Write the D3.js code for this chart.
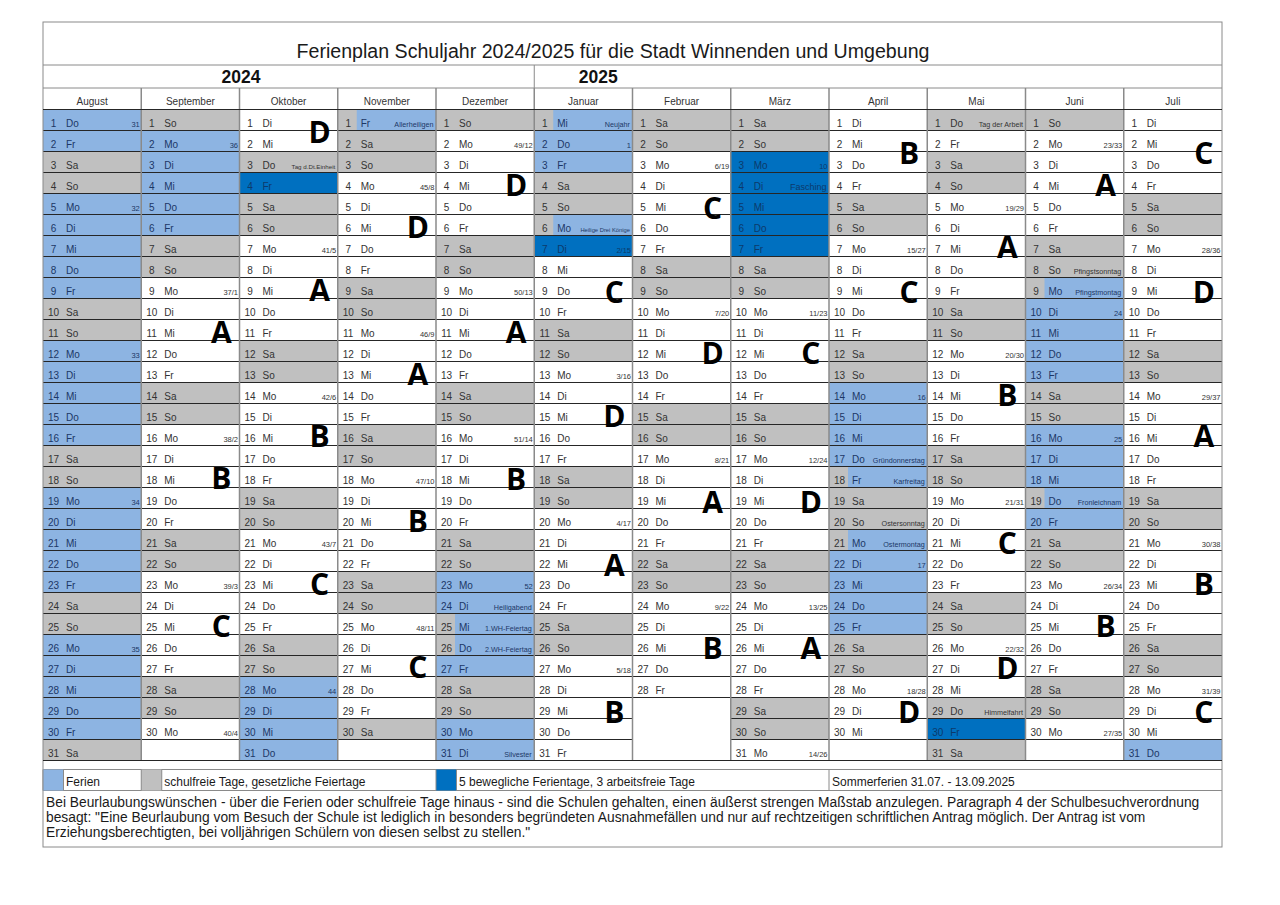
<!DOCTYPE html>
<html>
<head>
<meta charset="utf-8">
<script src="https://cdn.jsdelivr.net/npm/d3@7"></script>
<style>
  body { margin: 0; background: #fff; }
  svg { display: block; font-family: "Liberation Sans", Arial, sans-serif; }
</style>
</head>
<body>
<svg id="chart" width="1280" height="905"></svg>
<script>
const TITLE = 'Ferienplan Schuljahr 2024/2025 für die Stadt Winnenden und Umgebung';
const YEARS = ['2024', '2025'];
const MONTHS = ['August', 'September', 'Oktober', 'November', 'Dezember', 'Januar',
  'Februar', 'März', 'April', 'Mai', 'Juni', 'Juli'];
const MONTH_START = ['2024-08-01', '2024-09-01', '2024-10-01', '2024-11-01', '2024-12-01', '2025-01-01',
  '2025-02-01', '2025-03-01', '2025-04-01', '2025-05-01', '2025-06-01', '2025-07-01'];
const WEEKDAYS = ['So', 'Mo', 'Di', 'Mi', 'Do', 'Fr', 'Sa'];

// w = Schultag, g = schulfrei, f = Ferien, b = beweglicher Ferientag, s = Feiertag in den Ferien, x = kein Tag
const DAY_CODES = [
  'ffggfffffggfffffggfffffggfffffg',
  'gfffffggwwwwwggwwwwwggwwwwwggwx',
  'wwgbggwwwwwggwwwwwggwwwwwggffff',
  'sggwwwwwggwwwwwggwwwwwggwwwwwgx',
  'gwwwwwggwwwwwggwwwwwggffssfggff',
  'sffggsbwwwggwwwwwggwwwwwggwwwww',
  'ggwwwwwggwwwwwggwwwwwggwwwwwxxx',
  'ggbbbbbggwwwwwggwwwwwggwwwwwggw',
  'wwwwggwwwwwggffffsggsffffggwwwx',
  'gwggwwwwwggwwwwwggwwwwwggwwwgbg',
  'gwwwwwggsffffggfffsfggwwwwwggwx',
  'wwwwggwwwwwggwwwwwggwwwwwggwwwf'
];

const WEEK_NO = [
  ['August', 1, '31'], ['August', 5, '32'], ['August', 12, '33'], ['August', 19, '34'], ['August', 26, '35'],
  ['September', 2, '36'], ['September', 9, '37/1'], ['September', 16, '38/2'], ['September', 23, '39/3'], ['September', 30, '40/4'],
  ['Oktober', 7, '41/5'], ['Oktober', 14, '42/6'], ['Oktober', 21, '43/7'], ['Oktober', 28, '44'],
  ['November', 4, '45/8'], ['November', 11, '46/9'], ['November', 18, '47/10'], ['November', 25, '48/11'],
  ['Dezember', 2, '49/12'], ['Dezember', 9, '50/13'], ['Dezember', 16, '51/14'], ['Dezember', 23, '52'],
  ['Januar', 2, '1'], ['Januar', 7, '2/15'], ['Januar', 13, '3/16'], ['Januar', 20, '4/17'], ['Januar', 27, '5/18'],
  ['Februar', 3, '6/19'], ['Februar', 10, '7/20'], ['Februar', 17, '8/21'], ['Februar', 24, '9/22'],
  ['März', 3, '10'], ['März', 10, '11/23'], ['März', 17, '12/24'], ['März', 24, '13/25'], ['März', 31, '14/26'],
  ['April', 7, '15/27'], ['April', 14, '16'], ['April', 22, '17'], ['April', 28, '18/28'],
  ['Mai', 5, '19/29'], ['Mai', 12, '20/30'], ['Mai', 19, '21/31'], ['Mai', 26, '22/32'],
  ['Juni', 2, '23/33'], ['Juni', 10, '24'], ['Juni', 16, '25'], ['Juni', 23, '26/34'], ['Juni', 30, '27/35'],
  ['Juli', 7, '28/36'], ['Juli', 14, '29/37'], ['Juli', 21, '30/38'], ['Juli', 28, '31/39']
];

const HOLIDAYS = [
  ['Oktober', 3, 'Tag d.Dt.Einheit'], ['November', 1, 'Allerheiligen'],
  ['Dezember', 24, 'Heiligabend'], ['Dezember', 25, '1.WH-Feiertag'], ['Dezember', 26, '2.WH-Feiertag'], ['Dezember', 31, 'Silvester'],
  ['Januar', 1, 'Neujahr'], ['Januar', 6, 'Heilige Drei Könige'], ['März', 4, 'Fasching'],
  ['April', 17, 'Gründonnerstag'], ['April', 18, 'Karfreitag'], ['April', 20, 'Ostersonntag'], ['April', 21, 'Ostermontag'],
  ['Mai', 1, 'Tag der Arbeit'], ['Mai', 29, 'Himmelfahrt'],
  ['Juni', 8, 'Pfingstsonntag'], ['Juni', 9, 'Pfingstmontag'], ['Juni', 19, 'Fronleichnam']
];

// grosse Buchstaben: Monat, Buchstabe, Zeile (Tag, gebrochen)
const LETTERS = [
  ['Oktober', 'D', 1.6], ['April', 'B', 2.6], ['Juli', 'C', 2.6], ['Dezember', 'D', 4.1], ['Juni', 'A', 4.1],
  ['Februar', 'C', 5.2], ['November', 'D', 6.1], ['Mai', 'A', 7.05], ['Oktober', 'A', 9.1], ['Januar', 'C', 9.2],
  ['April', 'C', 9.2], ['Juli', 'D', 9.2], ['September', 'A', 11.1], ['Dezember', 'A', 11.1], ['Februar', 'D', 12.1],
  ['März', 'C', 12.1], ['November', 'A', 13.1], ['Mai', 'B', 14.1], ['Januar', 'D', 15.1], ['Oktober', 'B', 16.05],
  ['Juli', 'A', 16.05], ['September', 'B', 18.05], ['Dezember', 'B', 18.1], ['Februar', 'A', 19.2], ['März', 'D', 19.2],
  ['November', 'B', 20.1], ['Mai', 'C', 21.15], ['Januar', 'A', 22.2], ['Oktober', 'C', 23.1], ['Juli', 'B', 23.1],
  ['September', 'C', 25.1], ['Juni', 'B', 25.1], ['Februar', 'B', 26.15], ['März', 'A', 26.15], ['November', 'C', 27.05],
  ['Mai', 'D', 27.1], ['April', 'D', 29.2], ['Juli', 'C', 29.2], ['Januar', 'B', 29.2]
];

const LEGEND = [
  { code: 'f', month: 'August', label: 'Ferien' },
  { code: 'g', month: 'September', label: 'schulfreie Tage, gesetzliche Feiertage' },
  { code: 'b', month: 'Dezember', label: '5 bewegliche Ferientage, 3 arbeitsfreie Tage' }
];
const SUMMER_NOTE = ['April', 'Sommerferien 31.07. - 13.09.2025'];
const NOTE_LINES = [
  'Bei Beurlaubungswünschen - über die Ferien oder schulfreie Tage hinaus - sind die Schulen gehalten, einen äußerst strengen Maßstab anzulegen. Paragraph 4 der Schulbesuchverordnung',
  'besagt: "Eine Beurlaubung vom Besuch der Schule ist lediglich in besonders begründeten Ausnahmefällen und nur auf rechtzeitigen schriftlichen Antrag möglich. Der Antrag ist vom',
  'Erziehungsberechtigten, bei volljährigen Schülern von diesen selbst zu stellen."'
];

const FILL = { w: '#ffffff', g: '#c0c0c0', f: '#8db4e2', b: '#0070c0', s: '#8db4e2', x: '#ffffff' };
const INK = { w: '#333333', g: '#333333', f: '#1c3766', b: '#0c3a6b', s: '#1c3766', x: '#333333' };
const GRID = '#262626', FRAME = '#8a8a8a';

const L = 43, R = 1222, TOP = 22, BOTTOM = 847;
const Y_TITLE = 65, Y_YEAR = 88, Y_HEAD = 109.5, Y_GRID = 760.5, Y_LEG0 = 769.5, Y_LEG1 = 790.5;
const NUM_W = 19;

const svg = d3.select('#chart');
const x = d3.scaleBand().domain(MONTHS).range([L, R]);
const y = d3.scaleBand().domain(d3.range(1, 32)).range([Y_HEAD, Y_GRID]);
const yc = d3.scaleLinear().domain([0.5, 31.5]).range([Y_HEAD, Y_GRID]);
const bw = x.bandwidth(), bh = y.bandwidth();
const parse = d3.timeParse('%Y-%m-%d');

const cells = [];
MONTHS.forEach((m, i) => {
  const start = parse(MONTH_START[i]);
  DAY_CODES[i].split('').forEach((c, k) => {
    const date = d3.timeDay.offset(start, k);
    cells.push({ m, d: k + 1, c, wd: WEEKDAYS[date.getDay()] });
  });
});
const cellOf = (m, d) => cells.find(c => c.m === m && c.d === d);

// cell fills
const gc = svg.append('g');
gc.selectAll('rect.cell').data(cells).join('rect').attr('class', 'cell')
  .attr('x', d => x(d.m)).attr('y', d => y(d.d)).attr('width', bw).attr('height', bh)
  .attr('fill', d => FILL[d.c]);
gc.selectAll('rect.num').data(cells.filter(d => d.c === 's')).join('rect').attr('class', 'num')
  .attr('x', d => x(d.m)).attr('y', d => y(d.d)).attr('width', NUM_W).attr('height', bh)
  .attr('fill', FILL.g);

// horizontal grid lines per month
const hl = [];
MONTHS.forEach((m, i) => {
  const code = DAY_CODES[i];
  for (let k = 0; k <= 31; k++) {
    if (k === 0 || k === 31 || code[k - 1] !== 'x' || code[k] !== 'x')
      hl.push({ m, yy: Y_HEAD + k * bh });
  }
});
svg.append('g').selectAll('line').data(hl).join('line')
  .attr('x1', d => x(d.m)).attr('x2', d => x(d.m) + bw)
  .attr('y1', d => d.yy).attr('y2', d => d.yy)
  .attr('stroke', GRID).attr('stroke-width', 1);

// month separators
svg.append('g').selectAll('line').data(MONTHS.slice(1)).join('line')
  .attr('x1', d => x(d)).attr('x2', d => x(d)).attr('y1', Y_YEAR).attr('y2', Y_GRID)
  .attr('stroke', FRAME).attr('stroke-width', 1.5);

// day texts
const gt = svg.append('g').attr('font-size', 10);
const dayCells = cells.filter(d => d.c !== 'x');
gt.selectAll('text.n').data(dayCells).join('text').attr('class', 'n')
  .attr('x', d => x(d.m) + 10.5).attr('y', d => y(d.d) + 17.5).attr('text-anchor', 'middle')
  .attr('fill', d => d.c === 's' ? INK.g : INK[d.c]).text(d => d.d);
gt.selectAll('text.wd').data(dayCells).join('text').attr('class', 'wd')
  .attr('x', d => x(d.m) + 23).attr('y', d => y(d.d) + 17.5)
  .attr('fill', d => INK[d.c]).text(d => d.wd);

gt.selectAll('text.kw').data(WEEK_NO).join('text').attr('class', 'kw')
  .attr('x', d => x(d[0]) + bw - 1.5).attr('y', d => y(d[1]) + 17.5)
  .attr('text-anchor', 'end').attr('font-size', 7.5)
  .attr('fill', d => INK[cellOf(d[0], d[1]).c]).text(d => d[2]);

const HOL_SIZE = { 'Heilige Drei Könige': 5.8, 'Tag d.Dt.Einheit': 6.2, 'Fasching': 9 };
gt.selectAll('text.hol').data(HOLIDAYS).join('text').attr('class', 'hol')
  .attr('x', d => x(d[0]) + bw - 2.5).attr('y', d => y(d[1]) + 17)
  .attr('text-anchor', 'end').attr('font-size', d => HOL_SIZE[d[2]] || 7.2)
  .attr('fill', d => INK[cellOf(d[0], d[1]).c]).text(d => d[2]);

// big letters
svg.append('g').selectAll('text').data(LETTERS).join('text')
  .attr('x', d => x(d[0]) + 80).attr('y', d => yc(d[2]) + 10.7)
  .attr('text-anchor', 'middle').attr('font-family', '"Open Sans", sans-serif')
  .attr('font-weight', 700).attr('font-size', 30).attr('fill', '#000').text(d => d[1]);

// frame and header
const frame = svg.append('g').attr('stroke', FRAME).attr('stroke-width', 1).attr('fill', 'none');
frame.append('rect').attr('x', L).attr('y', TOP).attr('width', R - L).attr('height', BOTTOM - TOP);
[Y_TITLE, Y_YEAR, Y_LEG0, Y_LEG1].forEach(yy =>
  frame.append('line').attr('x1', L).attr('x2', R).attr('y1', yy).attr('y2', yy));
svg.append('g').attr('stroke', GRID).selectAll('line').data([Y_HEAD, Y_GRID]).join('line')
  .attr('x1', L).attr('x2', R).attr('y1', d => d).attr('y2', d => d);
frame.append('line').attr('x1', x('Januar')).attr('x2', x('Januar')).attr('y1', Y_TITLE).attr('y2', Y_YEAR);

svg.append('text').attr('x', 613).attr('y', 58).attr('text-anchor', 'middle')
  .attr('font-size', 19.6).attr('fill', '#1a1a1a').text(TITLE);
svg.selectAll('text.year').data(YEARS).join('text').attr('class', 'year')
  .attr('x', (d, i) => i === 0 ? x('Oktober') + 1.5 : x('Januar') + 64).attr('y', 83)
  .attr('text-anchor', 'middle').attr('font-size', 17.5).attr('font-weight', 700)
  .attr('fill', '#111').text(d => d);
svg.selectAll('text.month').data(MONTHS).join('text').attr('class', 'month')
  .attr('x', d => x(d) + bw / 2).attr('y', 105).attr('text-anchor', 'middle')
  .attr('font-size', 10).attr('fill', '#333').text(d => d);

// legend row
const lg = svg.append('g');
LEGEND.forEach(it => {
  const x0 = x(it.month);
  lg.append('rect').attr('x', x0).attr('y', Y_LEG0).attr('width', 20.5).attr('height', Y_LEG1 - Y_LEG0)
    .attr('fill', FILL[it.code]);
  lg.append('line').attr('x1', x0 + 20.5).attr('x2', x0 + 20.5).attr('y1', Y_LEG0).attr('y2', Y_LEG1)
    .attr('stroke', FRAME);
  lg.append('line').attr('x1', x0).attr('x2', x0).attr('y1', Y_LEG0).attr('y2', Y_LEG1)
    .attr('stroke', FRAME);
  lg.append('text').attr('x', x0 + 23).attr('y', Y_LEG1 - 5).attr('font-size', 12)
    .attr('fill', '#1a1a1a').text(it.label);
});
lg.append('line').attr('x1', x(SUMMER_NOTE[0])).attr('x2', x(SUMMER_NOTE[0]))
  .attr('y1', Y_LEG0).attr('y2', Y_LEG1).attr('stroke', FRAME);
lg.append('text').attr('x', x(SUMMER_NOTE[0]) + 3).attr('y', Y_LEG1 - 5).attr('font-size', 12)
  .attr('fill', '#1a1a1a').text(SUMMER_NOTE[1]);

// note text
svg.append('g').selectAll('text').data(NOTE_LINES).join('text')
  .attr('x', 46).attr('y', (d, i) => 806.5 + i * 15).attr('font-size', 13.8)
  .attr('fill', '#1a1a1a').text(d => d);
</script>
</body>
</html>
